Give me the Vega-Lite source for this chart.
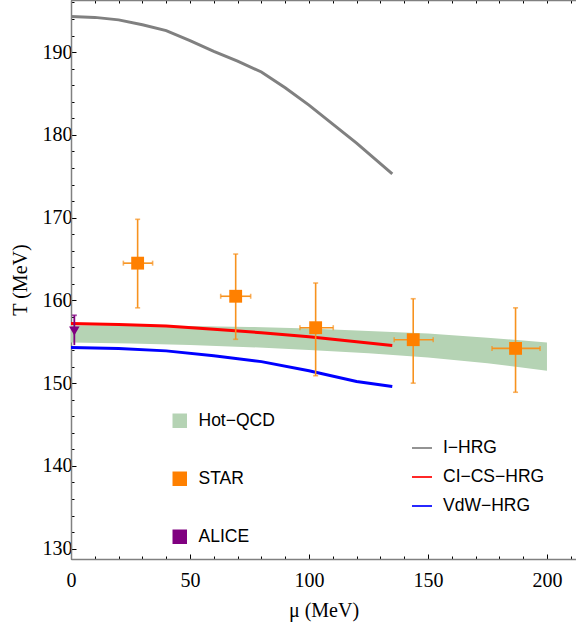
{
  "$schema": "https://vega.github.io/schema/vega-lite/v6.json",
  "width": 505,
  "height": 559,
  "autosize": {"type": "none"},
  "padding": {"left": 71, "top": 0, "right": 0, "bottom": 75},
  "background": "white",
  "config": {
    "view": {"stroke": null},
    "axis": {
      "grid": false,
      "domainColor": "#808080",
      "domainWidth": 1.5,
      "tickColor": "#000000",
      "tickWidth": 1,
      "labelFont": "Liberation Serif",
      "labelFontSize": 20,
      "labelColor": "#000000",
      "labelOverlap": false,
      "labelFlush": false,
      "titleFont": "Liberation Serif",
      "titleFontSize": 20,
      "titleFontWeight": "normal",
      "titleColor": "#000000"
    },
    "legend": {
      "labelFont": "Liberation Sans",
      "labelFontSize": 17.5,
      "labelColor": "#000000",
      "padding": 0
    }
  },
  "datasets": {
    "band": [
      {"mu": 0, "lo": 154.9, "hi": 157.0, "series": "Hot−QCD"},
      {"mu": 25, "lo": 154.8, "hi": 157.0, "series": "Hot−QCD"},
      {"mu": 50, "lo": 154.6, "hi": 156.9, "series": "Hot−QCD"},
      {"mu": 75, "lo": 154.35, "hi": 156.8, "series": "Hot−QCD"},
      {"mu": 100, "lo": 154.0, "hi": 156.6, "series": "Hot−QCD"},
      {"mu": 125, "lo": 153.6, "hi": 156.3, "series": "Hot−QCD"},
      {"mu": 150, "lo": 153.1, "hi": 156.0, "series": "Hot−QCD"},
      {"mu": 175, "lo": 152.4, "hi": 155.5, "series": "Hot−QCD"},
      {"mu": 200, "lo": 151.5, "hi": 154.9, "series": "Hot−QCD"}
    ],
    "lines": [
      {"mu": 0, "T": 194.3, "model": "I−HRG"},
      {"mu": 10, "T": 194.2, "model": "I−HRG"},
      {"mu": 20, "T": 193.9, "model": "I−HRG"},
      {"mu": 30, "T": 193.3, "model": "I−HRG"},
      {"mu": 40, "T": 192.6, "model": "I−HRG"},
      {"mu": 50, "T": 191.4, "model": "I−HRG"},
      {"mu": 60, "T": 190.1, "model": "I−HRG"},
      {"mu": 70, "T": 188.9, "model": "I−HRG"},
      {"mu": 80, "T": 187.6, "model": "I−HRG"},
      {"mu": 90, "T": 185.7, "model": "I−HRG"},
      {"mu": 100, "T": 183.6, "model": "I−HRG"},
      {"mu": 110, "T": 181.3, "model": "I−HRG"},
      {"mu": 120, "T": 179.0, "model": "I−HRG"},
      {"mu": 135, "T": 175.3, "model": "I−HRG"},
      {"mu": 0, "T": 157.2, "model": "CI−CS−HRG"},
      {"mu": 20, "T": 157.1, "model": "CI−CS−HRG"},
      {"mu": 40, "T": 156.9, "model": "CI−CS−HRG"},
      {"mu": 60, "T": 156.5, "model": "CI−CS−HRG"},
      {"mu": 80, "T": 156.1, "model": "CI−CS−HRG"},
      {"mu": 100, "T": 155.6, "model": "CI−CS−HRG"},
      {"mu": 120, "T": 155.0, "model": "CI−CS−HRG"},
      {"mu": 135, "T": 154.55, "model": "CI−CS−HRG"},
      {"mu": 0, "T": 154.3, "model": "VdW−HRG"},
      {"mu": 20, "T": 154.2, "model": "VdW−HRG"},
      {"mu": 40, "T": 153.9, "model": "VdW−HRG"},
      {"mu": 60, "T": 153.3, "model": "VdW−HRG"},
      {"mu": 80, "T": 152.6, "model": "VdW−HRG"},
      {"mu": 100, "T": 151.5, "model": "VdW−HRG"},
      {"mu": 120, "T": 150.2, "model": "VdW−HRG"},
      {"mu": 135, "T": 149.6, "model": "VdW−HRG"}
    ],
    "star": [
      {"mu": 28.0, "T": 164.5, "Tlo": 159.1, "Thi": 169.8, "mulo": 22.0, "muhi": 34.3, "series": "STAR"},
      {"mu": 69.2, "T": 160.5, "Tlo": 155.3, "Thi": 165.6, "mulo": 62.9, "muhi": 75.5, "series": "STAR"},
      {"mu": 102.8, "T": 156.7, "Tlo": 150.9, "Thi": 162.1, "mulo": 96.2, "muhi": 110.2, "series": "STAR"},
      {"mu": 143.8, "T": 155.25, "Tlo": 150.0, "Thi": 160.2, "mulo": 135.8, "muhi": 152.2, "series": "STAR"},
      {"mu": 186.8, "T": 154.2, "Tlo": 148.9, "Thi": 159.1, "mulo": 176.9, "muhi": 197.1, "series": "STAR"}
    ],
    "alice": [
      {"mu": 1.4, "T": 156.3, "Tlo": 154.6, "Thi": 158.2, "series": "ALICE"}
    ]
  },
  "resolve": {"scale": {"x": "independent", "y": "independent"}},
  "layer": [
    {
      "data": {"name": "alice"},
      "mark": {"type": "point", "opacity": 0},
      "encoding": {
        "x": {
          "field": "mu", "type": "quantitative",
          "scale": {"domain": [0, 212.2], "nice": false, "zero": false},
          "axis": {
            "orient": "bottom",
            "title": null,
            "domain": false,
            "labels": false,
            "values": [10,20,30,40,60,70,80,90,110,120,130,140,160,170,180,190,210],
            "tickSize": -3
          }
        },
        "y": {
          "field": "T", "type": "quantitative",
          "scale": {"domain": [128.75, 196.3], "nice": false, "zero": false},
          "axis": {
            "orient": "left",
            "title": null,
            "domain": false,
            "labels": false,
            "values": [132,134,136,138,142,144,146,148,152,154,156,158,162,164,166,168,172,174,176,178,182,184,186,188,192,194,196],
            "tickSize": -3
          }
        }
      }
    },
    {
      "data": {"name": "alice"},
      "mark": {"type": "point", "opacity": 0},
      "encoding": {
        "x": {
          "field": "mu", "type": "quantitative",
          "scale": {"domain": [0, 212.2], "nice": false, "zero": false},
          "axis": {
            "orient": "top",
            "title": null,
            "domain": true,
            "labels": false,
            "values": [0,10,20,30,40,50,60,70,80,90,100,110,120,130,140,150,160,170,180,190,200,210],
            "tickSize": -3
          }
        },
        "y": {
          "field": "T", "type": "quantitative",
          "scale": {"domain": [128.75, 196.3], "nice": false, "zero": false},
          "axis": null
        }
      }
    },
    {
      "layer": [
        {
          "data": {"name": "band"},
          "mark": {"type": "area", "opacity": 1},
          "encoding": {
            "x": {
              "field": "mu", "type": "quantitative",
              "scale": {"domain": [0, 212.2], "nice": false, "zero": false},
              "axis": {
                "orient": "bottom",
                "title": "μ (MeV)",
                "titlePadding": 10,
                "values": [0, 50, 100, 150, 200],
                "tickSize": -5,
                "labelFontSize": 20,
                "labelPadding": 16
              }
            },
            "y": {
              "field": "hi", "type": "quantitative",
              "scale": {"domain": [128.75, 196.3], "nice": false, "zero": false},
              "axis": {
                "orient": "left",
                "title": "T (MeV)",
                "titlePadding": 12,
                "values": [130, 140, 150, 160, 170, 180, 190],
                "tickSize": -5,
                "labelFontSize": 20,
                "labelPadding": 4
              }
            },
            "y2": {"field": "lo"},
            "color": {
              "field": "series", "type": "nominal",
              "scale": {"domain": ["Hot−QCD", "STAR", "ALICE"], "range": ["#B5D3B4", "#FF8000", "#800080"]},
              "legend": {
                "title": null,
                "orient": "none",
                "legendX": 100,
                "legendY": 412,
                "symbolType": "square",
                "symbolSize": 210,
                "symbolStrokeWidth": 0,
                "symbolOpacity": 1,
                "rowPadding": 39,
                "labelOffset": 10
              }
            }
          }
        },
        {
          "data": {"name": "lines"},
          "mark": {"type": "line", "strokeWidth": 3, "clip": true},
          "encoding": {
            "x": {"field": "mu", "type": "quantitative"},
            "y": {"field": "T", "type": "quantitative"},
            "stroke": {
              "field": "model", "type": "nominal",
              "scale": {"domain": ["I−HRG", "CI−CS−HRG", "VdW−HRG"], "range": ["#808080", "#FF0000", "#0000FF"]},
              "legend": {
                "title": null,
                "orient": "none",
                "legendX": 340,
                "legendY": 437,
                "symbolType": "stroke",
                "symbolSize": 400,
                "symbolStrokeWidth": 1.7,
                "rowPadding": 9,
                "labelOffset": 10
              }
            }
          }
        },
        {
          "data": {"name": "star"},
          "mark": {"type": "rule", "color": "#F7921E", "strokeWidth": 1.6},
          "encoding": {
            "x": {"field": "mu", "type": "quantitative"},
            "y": {"field": "Tlo", "type": "quantitative"},
            "y2": {"field": "Thi"}
          }
        },
        {
          "data": {"name": "star"},
          "mark": {"type": "rule", "color": "#F7921E", "strokeWidth": 1.6},
          "encoding": {
            "x": {"field": "mulo", "type": "quantitative"},
            "x2": {"field": "muhi"},
            "y": {"field": "T", "type": "quantitative"}
          }
        },
        {
          "data": {"name": "star"},
          "mark": {"type": "tick", "orient": "horizontal", "color": "#F7921E", "size": 5, "thickness": 1.6},
          "encoding": {
            "x": {"field": "mu", "type": "quantitative"},
            "y": {"field": "Thi", "type": "quantitative"}
          }
        },
        {
          "data": {"name": "star"},
          "mark": {"type": "tick", "orient": "horizontal", "color": "#F7921E", "size": 5, "thickness": 1.6},
          "encoding": {
            "x": {"field": "mu", "type": "quantitative"},
            "y": {"field": "Tlo", "type": "quantitative"}
          }
        },
        {
          "data": {"name": "star"},
          "mark": {"type": "tick", "orient": "vertical", "color": "#F7921E", "size": 5, "thickness": 1.6},
          "encoding": {
            "x": {"field": "mulo", "type": "quantitative"},
            "y": {"field": "T", "type": "quantitative"}
          }
        },
        {
          "data": {"name": "star"},
          "mark": {"type": "tick", "orient": "vertical", "color": "#F7921E", "size": 5, "thickness": 1.6},
          "encoding": {
            "x": {"field": "muhi", "type": "quantitative"},
            "y": {"field": "T", "type": "quantitative"}
          }
        },
        {
          "data": {"name": "star"},
          "mark": {"type": "square", "size": 165, "opacity": 1, "filled": true},
          "encoding": {
            "x": {"field": "mu", "type": "quantitative"},
            "y": {"field": "T", "type": "quantitative"},
            "color": {"field": "series", "type": "nominal"}
          }
        },
        {
          "data": {"name": "alice"},
          "mark": {"type": "rule", "color": "#800080", "strokeWidth": 1.8},
          "encoding": {
            "x": {"field": "mu", "type": "quantitative"},
            "y": {"field": "Tlo", "type": "quantitative"},
            "y2": {"field": "Thi"}
          }
        },
        {
          "data": {"name": "alice"},
          "mark": {"type": "tick", "orient": "horizontal", "color": "#800080", "size": 5, "thickness": 1.8},
          "encoding": {
            "x": {"field": "mu", "type": "quantitative"},
            "y": {"field": "Thi", "type": "quantitative"}
          }
        },
        {
          "data": {"name": "alice"},
          "mark": {"type": "point", "shape": "triangle-down", "size": 110, "filled": true, "opacity": 1},
          "encoding": {
            "x": {"field": "mu", "type": "quantitative"},
            "y": {"field": "T", "type": "quantitative"},
            "color": {"field": "series", "type": "nominal"}
          }
        }
      ]
    }
  ]
}
